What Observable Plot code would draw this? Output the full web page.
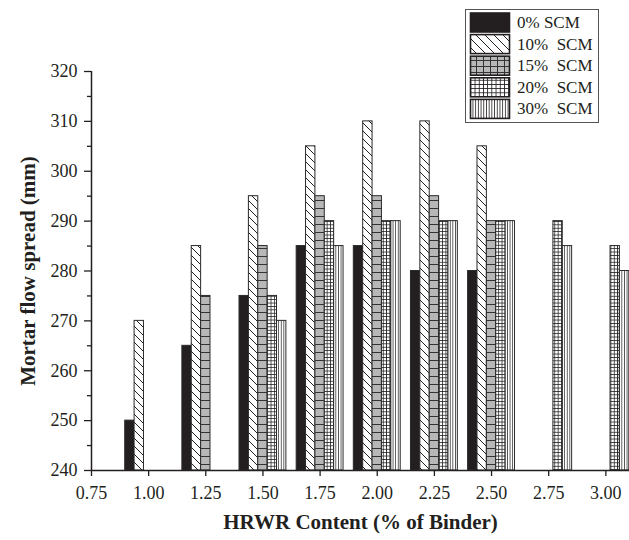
<!DOCTYPE html>
<html>
<head>
<meta charset="utf-8">
<script src="https://cdn.jsdelivr.net/npm/d3@7"></script>
<script src="https://cdn.jsdelivr.net/npm/@observablehq/plot@0.6"></script>
<style>
  html, body { margin: 0; padding: 0; background: #fff; }
  #wrap { position: relative; width: 629px; height: 540px; overflow: hidden; }
  #legend { position: absolute; left: 0; top: 0; }
</style>
</head>
<body>
<div id="wrap"></div>
<script>
// ---- data ----
const hrwr = [1.00, 1.25, 1.50, 1.75, 2.00, 2.25, 2.50, 2.75, 3.00];
const scm0  = [250, 265, 275, 285, 285, 280, 280, null, null];
const scm10 = [270, 285, 295, 305, 310, 310, 305, null, null];
const scm15 = [null, 275, 285, 295, 295, 295, 290, null, null];
const scm20 = [null, null, 275, 290, 290, 290, 290, 290, 285];
const scm30 = [null, null, 270, 285, 290, 290, 290, 285, 280];
const seriesNames = ["0% SCM", "10%  SCM", "15%  SCM", "20%  SCM", "30%  SCM"];
const seriesValues = [scm0, scm10, scm15, scm20, scm30];
const xTicks = [0.75, 1.00, 1.25, 1.50, 1.75, 2.00, 2.25, 2.50, 2.75, 3.00];
const yTicks = [240, 250, 260, 270, 280, 290, 300, 310, 320];
const yMinorTicks = [245, 255, 265, 275, 285, 295, 305, 315];
const xTitle = "HRWR Content (% of Binder)";
const yTitle = "Mortar flow spread (mm)";

// ---- style ----
const fills = ["url(#p0)", "url(#p10)", "url(#p15)", "url(#p20)", "url(#p30)"];
const legendFills = ["url(#p0)", "url(#p10L)", "url(#p15L)", "url(#p20L)", "url(#p30L)"];
const barW = 0.041;
const ink = "#231f20";
const serif = "'Liberation Serif', 'DejaVu Serif', serif";

const rows = [];
seriesValues.forEach((vals, i) => {
  vals.forEach((v, j) => {
    if (v != null) {
      const c = hrwr[j] + (i - 2) * barW;
      rows.push({series: i, x1: c - barW / 2, x2: c + barW / 2, value: v});
    }
  });
});

const marks = [];
seriesValues.forEach((_, i) => {
  marks.push(Plot.rectY(rows.filter(d => d.series === i), {
    x1: "x1", x2: "x2", y1: () => 240, y2: "value",
    fill: fills[i], stroke: "#2a2a2a", strokeWidth: 1, inset: 0
  }));
});

const chart = Plot.plot({
  width: 629,
  height: 540,
  marginLeft: 91,
  marginRight: 0,
  marginTop: 71,
  marginBottom: 70,
  style: {fontFamily: serif, fontSize: "18px", color: ink, background: "#fff"},
  x: {domain: [0.75, 0.75 + 538 / 228.6], label: null},
  y: {domain: [240, 320], label: null},
  marks: [
    ...marks,
    Plot.axisX({ticks: xTicks, tickFormat: d3.format(".2f"), tickSize: 6, tickPadding: 10, strokeWidth: 1.3, label: null, fontSize: 18}),
    Plot.axisY({ticks: yTicks, tickSize: 7, tickPadding: 7, strokeWidth: 1.3, label: null, fontSize: 18}),
    Plot.axisY({ticks: yMinorTicks, tickSize: 4, strokeWidth: 1.3, text: null, label: null}),
    Plot.ruleY([240], {stroke: ink, strokeWidth: 1.5}),
    Plot.ruleX([0.75], {stroke: ink, strokeWidth: 1.5}),
    Plot.text([xTitle], {frameAnchor: "bottom", dy: 52, lineAnchor: "middle", textAnchor: "middle", text: d => d, fontWeight: "bold", fontSize: 21, fill: ink}),
    Plot.text([yTitle], {frameAnchor: "left", dx: -63, rotate: -90, lineAnchor: "middle", textAnchor: "middle", text: d => d, fontWeight: "bold", fontSize: 21, fill: ink})
  ]
});

document.getElementById("wrap").appendChild(chart);

// ---- patterns ----
const svg = d3.select(chart);
const defs = svg.insert("defs", ":first-child");
function pat(id, w, h, draw) {
  const p = defs.append("pattern").attr("id", id).attr("patternUnits", "userSpaceOnUse")
    .attr("width", w).attr("height", h);
  draw(p);
}
pat("p0", 4, 4, p => p.append("rect").attr("width", 4).attr("height", 4).attr("fill", ink));
function diag(size, sw) {
  return p => {
    p.append("rect").attr("width", size).attr("height", size).attr("fill", "#fff");
    p.append("path").attr("d", `M0,0L${size},${size}M${-size/2},${size/2}L${size/2},${size*1.5}M${size/2},${-size/2}L${size*1.5},${size/2}`)
      .attr("stroke", ink).attr("stroke-width", sw);
  };
}
pat("p10", 8, 8, diag(8, 1));
pat("p10L", 9, 9, diag(9, 1));
pat("p15", 12, 8, p => {
  p.append("rect").attr("width", 12).attr("height", 8).attr("fill", "#b7b7b7");
  p.append("path").attr("d", "M0,0.5H12").attr("stroke", "#333").attr("stroke-width", 1);
});
pat("p15L", 7, 6, p => {
  p.append("rect").attr("width", 7).attr("height", 6).attr("fill", "#b7b7b7");
  p.append("path").attr("d", "M0,0.5H7M0.5,0V6").attr("stroke", "#333").attr("stroke-width", 1);
});
function grid(w, h, sw) {
  return p => {
    p.append("rect").attr("width", w).attr("height", h).attr("fill", "#fff");
    p.append("path").attr("d", `M0,0.4H${w}M0.4,0V${h}`).attr("stroke", ink).attr("stroke-width", sw);
  };
}
pat("p20", 3.3, 3.4, grid(3.3, 3.4, 0.8));
pat("p20L", 4.2, 4.2, grid(4.2, 4.2, 0.9));
function vlines(w, sw) {
  return p => {
    p.append("rect").attr("width", w).attr("height", 10).attr("fill", "#fff");
    p.append("path").attr("d", `M0.4,0V10`).attr("stroke", ink).attr("stroke-width", sw);
  };
}
pat("p30", 2.6, 10, vlines(2.6, 0.8));
pat("p30L", 2.7, 10, vlines(2.7, 0.9));

// ---- legend (inside plot area, top right) ----
const lg = d3.select("#wrap").append("svg").attr("id", "legend")
  .attr("width", 629).attr("height", 140)
  .style("font-family", serif);
lg.append("rect").attr("x", 465.5).attr("y", 9.5).attr("width", 133).attr("height", 113)
  .attr("fill", "#fff").attr("stroke", "#555").attr("stroke-width", 1);
seriesNames.forEach((name, i) => {
  const y = 13 + i * 21.6;
  lg.append("rect").attr("x", 470.5).attr("y", y).attr("width", 39).attr("height", 19)
    .attr("fill", legendFills[i]).attr("stroke", ink).attr("stroke-width", 1.6);
  lg.append("text").attr("x", 517).attr("y", y + 15).attr("font-size", 17)
    .attr("fill", ink).attr("xml:space", "preserve").style("white-space", "pre").text(name);
});
</script>
</body>
</html>
